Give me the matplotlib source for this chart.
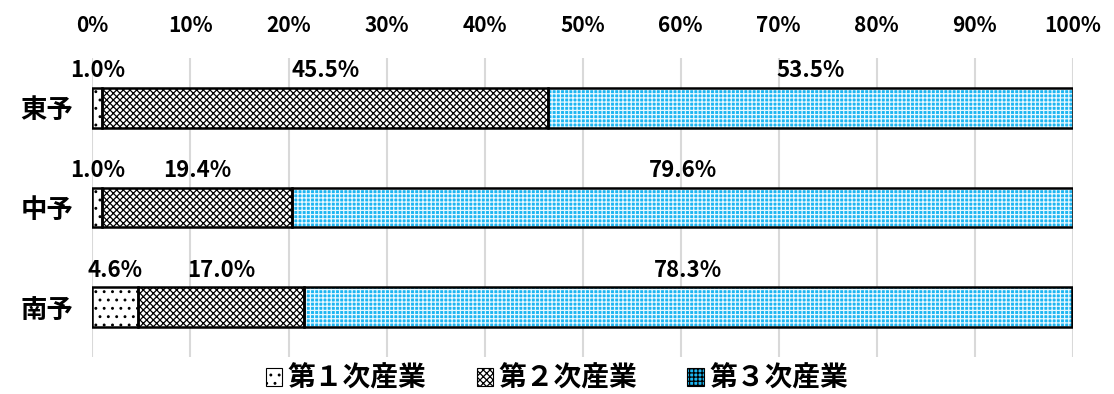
import numpy as np
import matplotlib.pyplot as plt
from matplotlib.patches import Patch

plt.rcParams['font.family'] = ['Noto Sans CJK JP', 'DejaVu Sans']

regions = ['東予', '中予', '南予']
sectors = ['第１次産業', '第２次産業', '第３次産業']
primary = [1.0, 1.0, 4.6]
secondary = [45.5, 19.4, 17.0]
tertiary = [53.5, 79.6, 78.3]

# face colour, hatch pattern, hatch colour per sector
styles = [
    ('white', '..', 'black'),
    ('white', 'xxxxx', 'black'),
    ('#1cb6f2', '++++', '#e8f8ff'),
]

fig = plt.figure(figsize=(11.14, 3.94), dpi=100)
ax = fig.add_axes([0.083, 0.094, 0.880, 0.759])

y = np.arange(len(regions))
left = np.zeros(len(regions))
plt.rcParams['hatch.linewidth'] = 0.9
for vals, (fc, hatch, hc) in zip([primary, secondary, tertiary], styles):
    vals = np.array(vals)
    ax.barh(y, vals, left=left, height=0.4, color=fc, hatch=hatch,
            edgecolor=hc, linewidth=0, zorder=2)
    ax.barh(y, vals, left=left, height=0.4, fill=False,
            edgecolor='black', linewidth=1.8, zorder=3)
    for yi, l, v in zip(y, left, vals):
        ax.text(l + v / 2, yi - 0.37, f'{v:.1f}%', ha='center', va='center',
                fontsize=16, fontweight='bold')
    left = left + vals

ax.set_xlim(0, 100)
ax.set_ylim(2.5, -0.5)
ax.set_xticks(np.arange(0, 101, 10))
ax.set_xticklabels([f'{t}%' for t in range(0, 101, 10)], fontsize=15, fontweight='bold')
ax.xaxis.tick_top()
ax.tick_params(axis='x', length=0, pad=16)
ax.set_yticks(y)
ax.set_yticklabels(regions, fontsize=19, fontweight='bold')
ax.tick_params(axis='y', length=0, pad=14)
ax.grid(axis='x', color='#d9d9d9', linewidth=1.5, zorder=0)
ax.set_axisbelow(True)
for s in ax.spines.values():
    s.set_visible(False)

handles = [Patch(facecolor=fc, hatch=h, edgecolor=hc, linewidth=0) for fc, h, hc in styles]
leg = fig.legend(handles, sectors, loc='lower center', bbox_to_anchor=(0.5, -0.06),
                 ncol=3, frameon=False, prop={'size': 20, 'weight': 'bold'},
                 handlelength=0.6, handleheight=0.6, handletextpad=0.2, columnspacing=1.8)
for h in leg.legend_handles:
    h.set_edgecolor('black')
    h.set_linewidth(0.8)

fig.savefig('out.png', dpi=100)
